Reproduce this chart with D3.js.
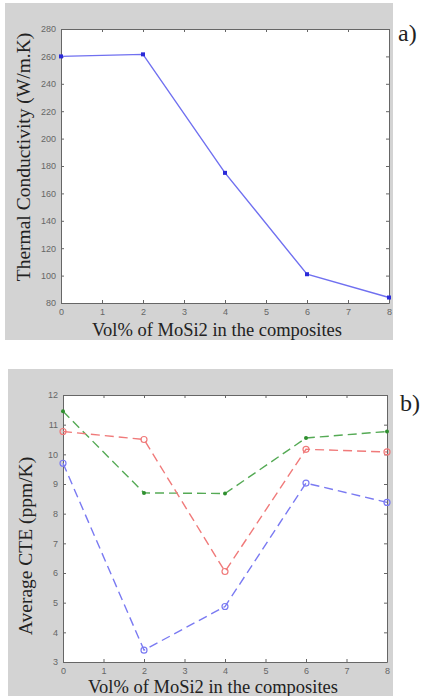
<!DOCTYPE html>
<html>
<head>
<meta charset="utf-8">
<script src="https://cdn.jsdelivr.net/npm/d3@7"></script>
<style>
  body { margin: 0; background: #fff; }
  svg { display: block; }
  .tick text { font-family: Arial, "Liberation Sans", sans-serif; font-size: 9px; fill: #666; }
  .axlabel { font-family: "Times New Roman", "Liberation Serif", serif; fill: #222; }
</style>
</head>
<body>
<div id="chart"></div>
<script>
// data
var volPct = [0, 2, 4, 6, 8];
var thermalCond = [260, 261.5, 175, 101, 84];
var cteGreen = [11.45, 8.7, 8.68, 10.55, 10.77];
var cteRed = [10.77, 10.5, 6.05, 10.17, 10.08];
var cteBlue = [9.7, 3.4, 4.87, 9.03, 8.38];
var xTicks = [0, 1, 2, 3, 4, 5, 6, 7, 8];
var yTicksA = [80, 100, 120, 140, 160, 180, 200, 220, 240, 260, 280];
var yTicksB = [3, 4, 5, 6, 7, 8, 9, 10, 11, 12];

var svg = d3.select('#chart').append('svg')
    .attr('width', 424)
    .attr('height', 696);

// draws one matlab-style panel, returns scales
function panel(opt) {
    svg.append('rect')
        .attr('x', opt.bg[0]).attr('y', opt.bg[1])
        .attr('width', opt.bg[2]).attr('height', opt.bg[3])
        .attr('fill', '#d3d3d3');

    var x = d3.scaleLinear().domain([0, 8]).range([opt.left, opt.right]);
    var y = d3.scaleLinear().domain(opt.ydom).range([opt.bottom, opt.top]);

    svg.append('rect')
        .attr('x', opt.left).attr('y', opt.top)
        .attr('width', opt.right - opt.left).attr('height', opt.bottom - opt.top)
        .attr('fill', '#fff');

    var g = svg.append('g');
    // bottom / left axes with inner ticks
    g.append('g').attr('transform', `translate(0,${opt.bottom})`)
        .call(d3.axisBottom(x).tickValues(xTicks).tickSizeInner(-3).tickSizeOuter(0).tickPadding(6).tickFormat(d3.format('d')));
    g.append('g').attr('transform', `translate(${opt.left},0)`)
        .call(d3.axisLeft(y).tickValues(opt.yticks).tickSizeInner(-3).tickSizeOuter(0).tickPadding(5).tickFormat(d3.format('d')));
    // top / right mirror ticks
    g.append('g').attr('transform', `translate(0,${opt.top})`)
        .call(d3.axisTop(x).tickValues(xTicks).tickSizeInner(-3).tickSizeOuter(0).tickFormat(''));
    g.append('g').attr('transform', `translate(${opt.right},0)`)
        .call(d3.axisRight(y).tickValues(opt.yticks).tickSizeInner(-3).tickSizeOuter(0).tickFormat(''));
    g.selectAll('.domain').attr('stroke', '#666');
    g.selectAll('.tick line').attr('stroke', '#666');

    svg.append('text').attr('class', 'axlabel')
        .attr('x', opt.xlab[0]).attr('y', opt.xlab[1])
        .attr('text-anchor', 'middle').attr('font-size', '18.5px')
        .text('Vol% of MoSi2 in the composites');
    svg.append('text').attr('class', 'axlabel')
        .attr('transform', `translate(${opt.ylab[0]},${opt.ylab[1]}) rotate(-90)`)
        .attr('text-anchor', 'middle').attr('font-size', '19.5px')
        .text(opt.ytitle);
    svg.append('text').attr('class', 'axlabel')
        .attr('x', opt.tag[0]).attr('y', opt.tag[1])
        .attr('font-size', '24px').attr('fill', '#000')
        .text(opt.tagText);

    return {x: x, y: y};
}

// ---- panel a ----
var a = panel({
    bg: [5, 3, 388, 337],
    left: 61, right: 389, top: 29, bottom: 303,
    ydom: [80, 280], yticks: yTicksA,
    xlab: [217, 336], ylab: [30, 157],
    ytitle: 'Thermal Conductivity (W/m.K)',
    tag: [398, 41], tagText: 'a)'
});

var lineA = d3.line().x((d, i) => a.x(volPct[i])).y(d => a.y(d));
svg.append('path').datum(thermalCond)
    .attr('d', lineA).attr('fill', 'none')
    .attr('stroke', '#7070f0').attr('stroke-width', 1.4);
svg.selectAll('.ptA').data(thermalCond).enter().append('rect')
    .attr('x', (d, i) => a.x(volPct[i]) - 2)
    .attr('y', d => a.y(d) - 2)
    .attr('width', 4).attr('height', 4)
    .attr('fill', '#2a2ad8');

// ---- panel b ----
var b = panel({
    bg: [8, 369, 385, 327],
    left: 63, right: 387, top: 395, bottom: 662,
    ydom: [3, 12], yticks: yTicksB,
    xlab: [213, 693], ylab: [32, 546],
    ytitle: 'Average CTE (ppm/K)',
    tag: [400, 411], tagText: 'b)'
});

var seriesB = [
    {vals: cteGreen, color: '#55aa55', marker: 'dot'},
    {vals: cteRed, color: '#f07a7a', marker: 'circle'},
    {vals: cteBlue, color: '#7a7af2', marker: 'circle'}
];
var lineB = d3.line().x((d, i) => b.x(volPct[i])).y(d => b.y(d));
seriesB.forEach((s) => {
    svg.append('path').datum(s.vals)
        .attr('d', lineB).attr('fill', 'none')
        .attr('stroke', s.color).attr('stroke-width', 1.4)
        .attr('stroke-dasharray', '9,5');
    var pts = svg.selectAll(null).data(s.vals).enter();
    if (s.marker === 'dot') {
        pts.append('circle')
            .attr('cx', (d, i) => b.x(volPct[i])).attr('cy', d => b.y(d))
            .attr('r', 2).attr('fill', '#2f8f2f');
    } else {
        pts.append('circle')
            .attr('cx', (d, i) => b.x(volPct[i])).attr('cy', d => b.y(d))
            .attr('r', 3).attr('fill', 'none')
            .attr('stroke', s.color).attr('stroke-width', 1.2);
    }
});
</script>
</body>
</html>
